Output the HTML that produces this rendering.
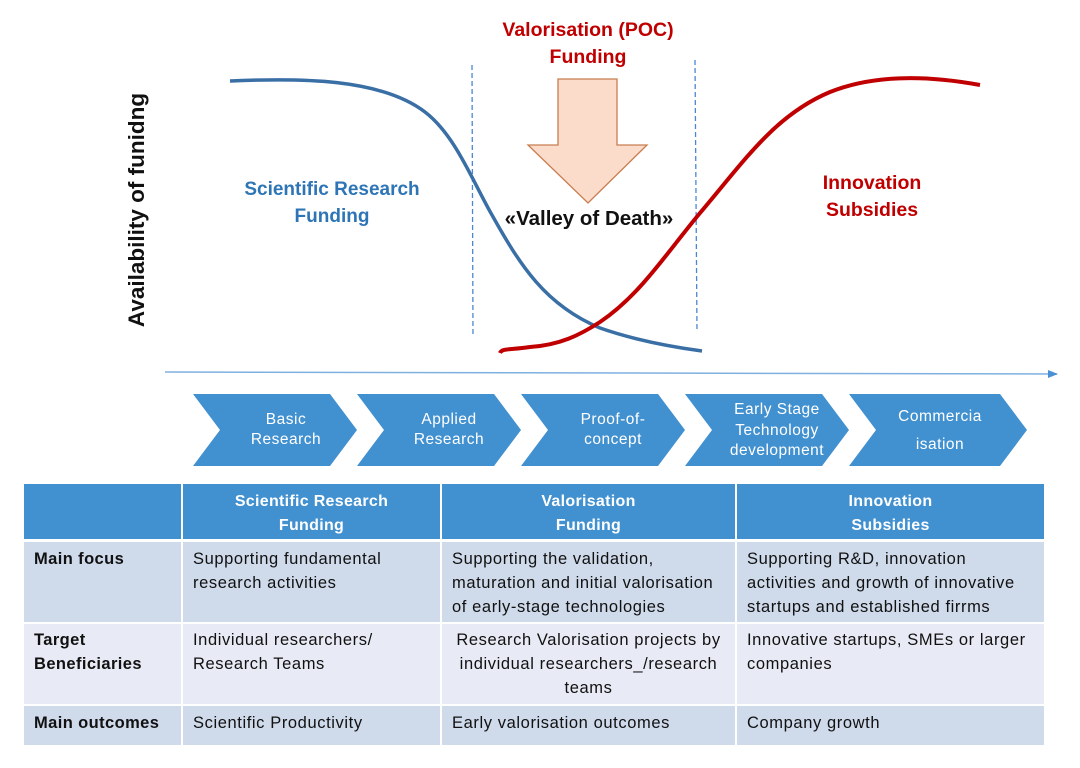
<!DOCTYPE html>
<html><head><meta charset="utf-8"><style>
body{margin:0;width:1080px;height:768px;background:#fff;position:relative;overflow:hidden;font-family:"Liberation Sans",sans-serif}
.c{position:absolute;box-sizing:border-box;font-size:16.5px;letter-spacing:0.6px;color:#111;line-height:24px;padding-left:10px;white-space:nowrap}
.h{background:#4190d0;color:#fff;font-weight:bold;text-align:center;font-size:16px;letter-spacing:0.3px;line-height:24px;padding:6px 0 0 0}
.r1{background:#cfdaeb}.r2{background:#e8ebf5}
.b{font-weight:bold;letter-spacing:0.4px}
</style></head><body>
<svg width="1080" height="768" style="position:absolute;left:0;top:0">
<defs><marker id="a" markerWidth="10" markerHeight="10" refX="9" refY="5" orient="auto" markerUnits="userSpaceOnUse"><path d="M0,1 L10,5 L0,9 z" fill="#4a90d6"/></marker></defs>
<line x1="472" y1="65" x2="473" y2="337" stroke="#4a86d6" stroke-width="1.3" stroke-dasharray="5,3"/>
<line x1="695" y1="60" x2="697" y2="332" stroke="#4a86d6" stroke-width="1.3" stroke-dasharray="5,3"/>
<line x1="165" y1="372" x2="1057" y2="374" stroke="#7fb0e0" stroke-width="1.5" marker-end="url(#a)"/>
<path d="M230,81 C300,78 380,78 425,112 C455,135 472,180 492,215 C520,265 545,305 600,328 C640,342 680,348 702,351" fill="none" stroke="#3a6fa6" stroke-width="3.5"/>
<path d="M500,353 C502,348 510,350 530,347 C560,345 580,335 600,322 C640,295 665,255 700,213 C745,160 775,115 830,92 C870,76 920,74 980,85" fill="none" stroke="#c00000" stroke-width="4"/>
<path d="M558,79 L617,79 L617,145 L647,145 L588,203 L528,145 L558,145 z" fill="#fbdccb" stroke="#c87d50" stroke-width="1.3"/>
<g fill="#4190d0">
<path d="M193,394 L330,394 L357,430 L330,466 L193,466 L220,430 z"/>
<path d="M357,394 L494,394 L521,430 L494,466 L357,466 L384,430 z"/>
<path d="M521,394 L658,394 L685,430 L658,466 L521,466 L548,430 z"/>
<path d="M685,394 L822,394 L849,430 L822,466 L685,466 L712,430 z"/>
<path d="M849,394 L1000,394 L1027,430 L1000,466 L849,466 L876,430 z"/>
</g>
<g fill="#fff" font-family="Liberation Sans" font-size="15.5" letter-spacing="0.5" text-anchor="middle">
<text x="286" y="424">Basic</text><text x="286" y="444">Research</text>
<text x="449" y="424">Applied</text><text x="449" y="444">Research</text>
<text x="613" y="424">Proof-of-</text><text x="613" y="444">concept</text>
<text x="777" y="414">Early Stage</text><text x="777" y="435">Technology</text><text x="777" y="455">development</text>
<text x="940" y="421">Commercia</text><text x="940" y="449">isation</text>
</g>
<g font-family="Liberation Sans" font-weight="bold" text-anchor="middle" font-size="19">
<text x="588" y="36" fill="#c00000" font-size="19.5">Valorisation (POC)</text>
<text x="588" y="63" fill="#c00000" font-size="19.5">Funding</text>
<text x="332" y="195" fill="#2e75b6">Scientific Research</text>
<text x="332" y="222" fill="#2e75b6">Funding</text>
<text x="872" y="189" fill="#c00000" font-size="19.5">Innovation</text>
<text x="872" y="216" fill="#c00000" font-size="19.5">Subsidies</text>
<text x="589" y="225" fill="#111" font-size="20.5">«Valley of Death»</text>
<text transform="translate(144,210) rotate(-90)" fill="#111" font-size="22.5">Availability of funidng</text>
</g>
</svg>
<div class="c h" style="left:24px;top:484px;width:157px;height:55px"></div>
<div class="c h" style="left:183px;top:484px;width:257px;height:55px">Scientific Research<br>Funding</div>
<div class="c h" style="left:442px;top:484px;width:293px;height:55px">Valorisation<br>Funding</div>
<div class="c h" style="left:737px;top:484px;width:307px;height:55px">Innovation<br>Subsidies</div>

<div class="c r1 b" style="left:24px;top:542px;width:157px;height:80px;padding-top:5px">Main focus</div>
<div class="c r1" style="left:183px;top:542px;width:257px;height:80px;padding-top:5px">Supporting fundamental<br>research activities</div>
<div class="c r1" style="left:442px;top:542px;width:293px;height:80px;padding-top:5px">Supporting the validation,<br>maturation and initial valorisation<br>of early-stage technologies</div>
<div class="c r1" style="left:737px;top:542px;width:307px;height:80px;padding-top:5px">Supporting R&amp;D, innovation<br>activities and growth of innovative<br>startups and established firrms</div>

<div class="c r2 b" style="left:24px;top:624px;width:157px;height:80px;padding-top:4px">Target<br>Beneficiaries</div>
<div class="c r2" style="left:183px;top:624px;width:257px;height:80px;padding-top:4px">Individual researchers/<br>Research Teams</div>
<div class="c r2" style="left:442px;top:624px;width:293px;height:80px;padding:4px 0 0 0;text-align:center">Research Valorisation projects by<br>individual researchers_/research<br>teams</div>
<div class="c r2" style="left:737px;top:624px;width:307px;height:80px;padding-top:4px">Innovative startups, SMEs or larger<br>companies</div>

<div class="c r1 b" style="left:24px;top:706px;width:157px;height:39px;padding-top:5px">Main outcomes</div>
<div class="c r1" style="left:183px;top:706px;width:257px;height:39px;padding-top:5px">Scientific Productivity</div>
<div class="c r1" style="left:442px;top:706px;width:293px;height:39px;padding-top:5px">Early valorisation outcomes</div>
<div class="c r1" style="left:737px;top:706px;width:307px;height:39px;padding-top:5px">Company growth</div>
</body></html>
